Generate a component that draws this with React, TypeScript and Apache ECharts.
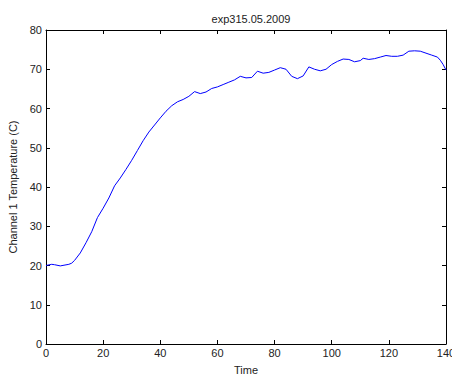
import React, { useEffect, useRef } from "react";
import * as echarts from "echarts";

const titleText = "exp315.05.2009";
const xName = "Time";
const yName = "Channel 1 Temperature (C)";

const times = [0, 2, 3, 5, 8, 9, 10, 12, 14, 16, 18, 20, 22, 24, 26, 28, 30, 32, 34, 36, 38, 40, 42, 44, 46, 48, 50, 52, 54, 56, 58, 60, 62, 64, 66, 68, 70, 72, 74, 76, 78, 80, 82, 84, 86, 88, 90, 92, 94, 96, 98, 100, 102, 104, 106, 108, 110, 111, 113, 115, 117, 119, 121, 123, 125, 127, 129, 131, 133, 135, 137, 138, 139, 140];
const temps = [20.0, 20.3, 20.2, 19.9, 20.3, 20.6, 21.3, 23.2, 25.8, 28.6, 32.2, 34.6, 37.2, 40.3, 42.3, 44.5, 46.8, 49.3, 51.8, 54.0, 55.8, 57.6, 59.3, 60.7, 61.7, 62.3, 63.1, 64.3, 63.8, 64.2, 65.1, 65.5, 66.1, 66.7, 67.3, 68.2, 67.8, 67.9, 69.5, 69.0, 69.2, 69.8, 70.4, 70.0, 68.2, 67.6, 68.3, 70.6, 70.0, 69.6, 70.0, 71.2, 72.0, 72.6, 72.5, 71.9, 72.2, 72.8, 72.5, 72.7, 73.1, 73.5, 73.3, 73.3, 73.6, 74.6, 74.7, 74.6, 74.1, 73.6, 73.1, 72.3, 71.2, 69.8];

const FONT = "'Liberation Sans', Arial, sans-serif";

export default function App() {
  const ref = useRef<HTMLDivElement>(null);
  useEffect(() => {
    document.body.style.margin = "0";
    document.body.style.overflow = "hidden";
    if (!ref.current) return;
    const chart = echarts.init(ref.current, null, { renderer: "svg", width: 452, height: 376 });
    const axisLine = { show: true, onZero: false, lineStyle: { color: "#000", width: 1 } };
    const tick = { show: true, inside: true, length: 4, lineStyle: { color: "#000", width: 1 } };
    const label = { color: "#222", fontSize: 11, fontFamily: FONT };
    chart.setOption({
      animation: false,
      backgroundColor: "#fff",
      title: {
        text: titleText,
        left: 246,
        top: 8,
        textAlign: "center",
        textStyle: { color: "#222", fontSize: 11, fontWeight: "normal", fontFamily: FONT },
      },
      grid: { left: 46, right: 6, top: 30, bottom: 32, containLabel: false, outerBoundsMode: "none" },
      xAxis: [
        {
          type: "value",
          min: 0,
          max: 140,
          interval: 20,
          name: xName,
          nameLocation: "middle",
          nameGap: 20,
          nameTextStyle: label,
          axisLine,
          axisTick: tick,
          axisLabel: { ...label, margin: 3, hideOverlap: false },
          splitLine: { show: false },
        },
        {
          type: "value",
          position: "top",
          min: 0,
          max: 140,
          interval: 20,
          axisLine,
          axisTick: tick,
          axisLabel: { show: false },
          splitLine: { show: false },
        },
      ],
      yAxis: [
        {
          type: "value",
          min: 0,
          max: 80,
          interval: 10,
          name: yName,
          nameLocation: "middle",
          nameGap: 24,
          nameTextStyle: label,
          axisLine,
          axisTick: tick,
          axisLabel: { ...label, margin: 4 },
          splitLine: { show: false },
        },
        {
          type: "value",
          position: "right",
          min: 0,
          max: 80,
          interval: 10,
          axisLine,
          axisTick: tick,
          axisLabel: { show: false },
          splitLine: { show: false },
        },
      ],
      series: [
        {
          type: "line",
          data: times.map((t, i) => [t, temps[i]]),
          showSymbol: false,
          lineStyle: { color: "#0000ff", width: 1 },
          itemStyle: { color: "#0000ff" },
        },
      ],
    });
    return () => chart.dispose();
  }, []);
  return <div ref={ref} style={{ width: 452, height: 376, background: "#fff" }} />;
}
